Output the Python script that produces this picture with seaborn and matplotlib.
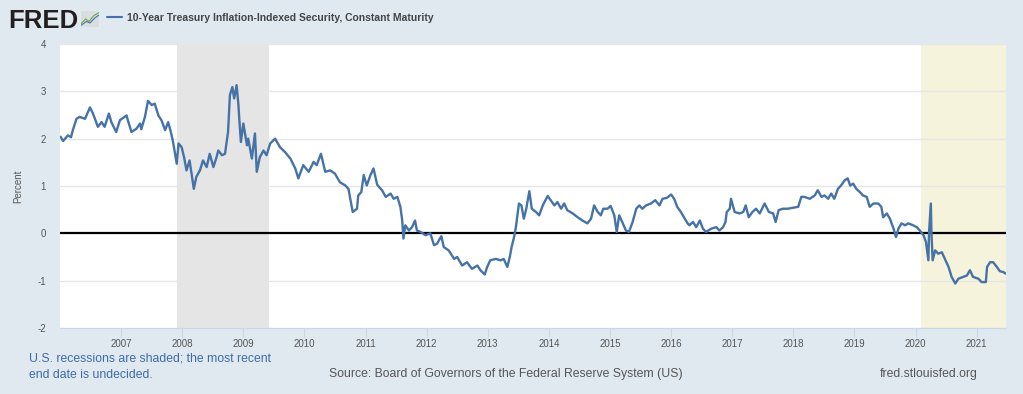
import numpy as np
import pandas as pd
import matplotlib
matplotlib.use("Agg")
import matplotlib.pyplot as plt
import seaborn as sns

# valeurs (annee decimale, pourcentage)
years = [
    2006.01, 2006.05, 2006.13, 2006.18, 2006.21, 2006.27, 2006.32, 2006.41, 2006.49, 2006.54,
    2006.62, 2006.68, 2006.73, 2006.80, 2006.84, 2006.92, 2006.98, 2007.09, 2007.11, 2007.17,
    2007.25, 2007.31, 2007.33, 2007.39, 2007.44, 2007.50, 2007.55, 2007.61, 2007.66, 2007.72,
    2007.77, 2007.82, 2007.85, 2007.91, 2007.94, 2007.99, 2008.03, 2008.07, 2008.12, 2008.19,
    2008.23, 2008.29, 2008.34, 2008.40, 2008.45, 2008.51, 2008.56, 2008.59, 2008.65, 2008.70,
    2008.75, 2008.78, 2008.82, 2008.85, 2008.89, 2008.92, 2008.93, 2008.96, 2009.00, 2009.06,
    2009.08, 2009.14, 2009.19, 2009.22, 2009.27, 2009.33, 2009.38, 2009.44, 2009.52, 2009.60,
    2009.68, 2009.77, 2009.85, 2009.90, 2009.98, 2010.07, 2010.15, 2010.20, 2010.27, 2010.34,
    2010.42, 2010.50, 2010.58, 2010.67, 2010.72, 2010.76, 2010.79, 2010.86, 2010.88, 2010.93,
    2010.97, 2011.02, 2011.08, 2011.13, 2011.19, 2011.22, 2011.27, 2011.33, 2011.41, 2011.46,
    2011.52, 2011.57, 2011.60, 2011.62, 2011.65, 2011.71, 2011.76, 2011.81, 2011.84, 2011.90,
    2011.98, 2012.06, 2012.12, 2012.17, 2012.24, 2012.28, 2012.36, 2012.45, 2012.50, 2012.58,
    2012.66, 2012.74, 2012.83, 2012.88, 2012.95, 2012.99, 2013.04, 2013.13, 2013.21, 2013.26,
    2013.32, 2013.36, 2013.39, 2013.43, 2013.46, 2013.51, 2013.55, 2013.59, 2013.63, 2013.68,
    2013.72, 2013.79, 2013.84, 2013.90, 2013.98, 2014.03, 2014.09, 2014.14, 2014.20, 2014.25,
    2014.30, 2014.39, 2014.47, 2014.55, 2014.63, 2014.69, 2014.74, 2014.80, 2014.85, 2014.89,
    2014.96, 2015.01, 2015.07, 2015.11, 2015.15, 2015.20, 2015.26, 2015.31, 2015.37, 2015.43,
    2015.48, 2015.53, 2015.59, 2015.67, 2015.74, 2015.81, 2015.86, 2015.93, 2016.00, 2016.05,
    2016.10, 2016.16, 2016.21, 2016.27, 2016.30, 2016.36, 2016.41, 2016.47, 2016.52, 2016.57,
    2016.66, 2016.74, 2016.79, 2016.85, 2016.89, 2016.90, 2016.91, 2016.96, 2016.98, 2017.04,
    2017.12, 2017.18, 2017.22, 2017.27, 2017.33, 2017.39, 2017.45, 2017.53, 2017.60, 2017.67,
    2017.71, 2017.76, 2017.83, 2017.91, 2017.99, 2018.08, 2018.13, 2018.18, 2018.27, 2018.35,
    2018.40, 2018.46, 2018.51, 2018.57, 2018.62, 2018.67, 2018.73, 2018.78, 2018.84, 2018.89,
    2018.93, 2018.98, 2019.03, 2019.09, 2019.14, 2019.20, 2019.25, 2019.31, 2019.39, 2019.44,
    2019.47, 2019.53, 2019.58, 2019.64, 2019.68, 2019.72, 2019.77, 2019.83, 2019.88, 2019.96,
    2020.02, 2020.07, 2020.13, 2020.17, 2020.21, 2020.22, 2020.25, 2020.26, 2020.28, 2020.32,
    2020.37, 2020.43, 2020.48, 2020.54, 2020.59, 2020.65, 2020.70, 2020.78, 2020.84, 2020.89,
    2020.94, 2021.03, 2021.08, 2021.15, 2021.16, 2021.17, 2021.22, 2021.27, 2021.33, 2021.38,
    2021.44, 2021.47,
]
rates = [
    2.04, 1.95, 2.07, 2.03, 2.18, 2.42, 2.46, 2.42, 2.66, 2.53,
    2.25, 2.35, 2.25, 2.53, 2.35, 2.14, 2.39, 2.49, 2.39, 2.14,
    2.21, 2.32, 2.20, 2.46, 2.80, 2.71, 2.74, 2.49, 2.39, 2.18,
    2.35, 2.11, 1.93, 1.47, 1.90, 1.82, 1.61, 1.33, 1.54, 0.94,
    1.19, 1.33, 1.54, 1.40, 1.68, 1.40, 1.60, 1.75, 1.65, 1.68,
    2.14, 2.92, 3.09, 2.85, 3.13, 2.71, 2.49, 1.93, 2.32, 1.86,
    2.00, 1.58, 2.11, 1.30, 1.61, 1.75, 1.65, 1.90, 2.00, 1.82,
    1.72, 1.58, 1.37, 1.16, 1.44, 1.30, 1.51, 1.44, 1.68, 1.30,
    1.33, 1.26, 1.08, 1.01, 0.94, 0.66, 0.45, 0.52, 0.80, 0.87,
    1.23, 1.01, 1.23, 1.37, 1.03, 0.98, 0.91, 0.77, 0.84, 0.73,
    0.77, 0.56, 0.27, -0.11, 0.17, 0.06, 0.13, 0.27, 0.06, 0.03,
    -0.04, 0.00, -0.25, -0.22, -0.06, -0.29, -0.36, -0.54, -0.50, -0.68,
    -0.61, -0.75, -0.68, -0.78, -0.87, -0.71, -0.57, -0.54, -0.57, -0.54,
    -0.71, -0.50, -0.29, -0.08, 0.13, 0.63, 0.59, 0.31, 0.52, 0.89,
    0.52, 0.45, 0.38, 0.59, 0.79, 0.70, 0.59, 0.66, 0.52, 0.63,
    0.49, 0.42, 0.34, 0.27, 0.21, 0.31, 0.59, 0.45, 0.38, 0.52,
    0.52, 0.58, 0.38, 0.03, 0.38, 0.24, 0.06, 0.03, 0.24, 0.52,
    0.59, 0.52, 0.59, 0.63, 0.70, 0.59, 0.73, 0.75, 0.82, 0.73,
    0.56, 0.45, 0.34, 0.21, 0.17, 0.24, 0.13, 0.27, 0.10, 0.03,
    0.10, 0.13, 0.06, 0.13, 0.24, np.nan, 0.45, 0.52, 0.73, 0.45,
    0.42, 0.45, 0.59, 0.34, 0.45, 0.52, 0.42, 0.63, 0.45, 0.42,
    0.24, 0.49, 0.52, 0.52, 0.54, 0.56, 0.77, 0.77, 0.73, 0.80,
    0.91, 0.77, 0.80, 0.73, 0.84, 0.73, 0.94, 1.01, 1.12, 1.16,
    1.01, 1.05, 0.94, 0.87, 0.80, 0.77, 0.56, 0.63, 0.63, 0.56,
    0.34, 0.42, 0.31, 0.10, -0.08, 0.10, 0.21, 0.17, 0.21, 0.17,
    0.13, 0.06, -0.04, -0.18, -0.57, 0.00, 0.63, 0.00, -0.57, -0.36,
    -0.43, -0.40, -0.54, -0.71, -0.92, -1.06, -0.96, -0.92, -0.89, -0.78,
    -0.92, -0.96, -1.03, -1.03, np.nan, -0.71, -0.61, -0.61, -0.71, -0.80,
    -0.82, -0.85,
]

recession_start = [2007.92, 2020.09]
recession_end = [2009.42, 2021.48]
recession_color = ["#e5e5e5", "#f5f3dc"]

x_ticks = list(range(2007, 2022))
y_ticks = [-2, -1, 0, 1, 2, 3, 4]
x_min, x_max = 2006.0, 2021.48

title = "10-Year Treasury Inflation-Indexed Security, Constant Maturity"
note_1 = "U.S. recessions are shaded; the most recent"
note_2 = "end date is undecided."
source = "Source: Board of Governors of the Federal Reserve System (US)"
site = "fred.stlouisfed.org"

df = pd.DataFrame({"year": years, "rate": rates})

sns.set_theme(style="white")
plt.rcParams["font.family"] = ["Liberation Sans", "DejaVu Sans"]

W, H = 1023, 394
bg = "#e1e9f0"
fig = plt.figure(figsize=(W / 100, H / 100), dpi=100, facecolor=bg)
ax = fig.add_axes([60 / W, 1 - 328 / H, (1006 - 60) / W, (328 - 44) / H])
ax.set_facecolor("white")

for s, e, c in zip(recession_start, recession_end, recession_color):
    ax.axvspan(s, e, color=c, lw=0, zorder=0)

for yv in y_ticks:
    if yv != 0:
        ax.axhline(yv, color="#e6e6e6", lw=1, zorder=1)
ax.axhline(0, color="black", lw=1.6, zorder=2)

sns.lineplot(data=df, x="year", y="rate", ax=ax, color="#4572a7",
             linewidth=1.7, sort=False, estimator=None, zorder=3)

ax.set_xlim(x_min, x_max)
ax.set_ylim(-2, 4)
ax.set_xticks(x_ticks)
ax.set_xticklabels([str(t) for t in x_ticks])
ax.set_yticks(y_ticks)
ax.set_yticklabels([str(t) for t in y_ticks])
ax.tick_params(axis="x", length=6.5, width=0.8, color="#ccd6eb", labelsize=7,
               labelcolor="#555555", pad=1.5, direction="out", bottom=True)
ax.tick_params(axis="y", length=0, labelsize=7, labelcolor="#555555", pad=10)
for side in ["top", "right", "left"]:
    ax.spines[side].set_visible(False)
ax.spines["bottom"].set_color("#ccd6eb")
ax.spines["bottom"].set_linewidth(0.8)
ax.set_xlabel("")
ax.set_ylabel("Percent", fontsize=7, color="#555555", labelpad=10)

# en-tete
fig.text(8 / W, 1 - 19 / H, "FRED", fontsize=18.5, fontweight="bold",
         color="#231f20", va="center_baseline", ha="left")
icon = fig.add_axes([81 / W, 1 - 27 / H, 18 / W, 16 / H], facecolor="#d9dde0")
icon.add_patch(plt.Rectangle((0, 0), 1, 1, color="#d9dde0", zorder=0))
icon.plot([0, 0.25, 0.45, 0.7, 1], [0.2, 0.5, 0.35, 0.7, 0.9], color="#6aaa4a", lw=0.8)
icon.plot([0, 0.3, 0.5, 0.75, 1], [0.1, 0.35, 0.25, 0.55, 0.75], color="#4572a7", lw=0.8)
icon.set_xlim(0, 1)
icon.set_ylim(0, 1)
icon.axis("off")
fig.lines.append(plt.Line2D([107 / W, 122 / W], [1 - 17 / H, 1 - 17 / H],
                            transform=fig.transFigure, color="#4572a7", lw=1.5))
fig.text(127 / W, 1 - 17 / H, title, fontsize=7.45, fontweight="bold",
         color="#444444", va="center_baseline", ha="left")

# pied de page
fig.text(29 / W, 1 - 357 / H, note_1, fontsize=8.8, color="#3e6aa8",
         va="center_baseline", ha="left")
fig.text(29 / W, 1 - 373 / H, note_2, fontsize=8.8, color="#3e6aa8",
         va="center_baseline", ha="left")
fig.text(506 / W, 1 - 373 / H, source, fontsize=8.8, color="#555555",
         va="center_baseline", ha="center")
fig.text(978 / W, 1 - 373 / H, site, fontsize=8.8, color="#555555",
         va="center_baseline", ha="right")

fig.savefig("out.png", dpi=100, facecolor=bg)
